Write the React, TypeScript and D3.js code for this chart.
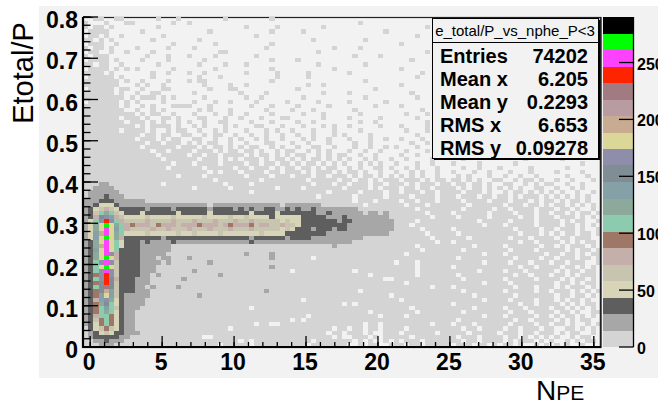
import React, { useEffect, useRef } from "react";
import * as d3 from "d3";

// histogram binning
const X_MIN = -0.5;
const X_MAX = 35.5;
const NX = 100;
const Y_MIN = 0;
const Y_MAX = 0.8;
const NY = 80;
const Z_MAX = 290;

const xTicks = [0, 5, 10, 15, 20, 25, 30, 35];
const yTicks = [0, 0.1, 0.2, 0.3, 0.4, 0.5, 0.6, 0.7, 0.8];
const zTicks = [0, 50, 100, 150, 200, 250];

const statTitle = "e_total/P_vs_nphe_P<3";
const statLabels = ["Entries", "Mean x", "Mean y", "RMS x", "RMS y"];
const statValues = ["74202", "6.205", "0.2293", "6.653", "0.09278"];

// 20 contour colours, lowest first
const paletteColors = [
  "#d4d4d4", "#a7a7a7", "#5e5e5e", "#d8d4b7", "#c7c4b0",
  "#c4afab", "#9f7766", "#8ccbae", "#8da99b", "#85a0a7",
  "#808d94", "#8e8eab", "#dbd799", "#c8ab91", "#b99ca1",
  "#a27b82", "#ff2400", "#ff42ff", "#00ff00", "#000000",
];

// contour level of every bin ('.' = empty, 1-9, a=10 ... k=20),
// one string per y bin, top row (0.79-0.80) first, 100 x bins each
const cellLevels = [
  "..11..11.. ....1...1. .......1.. ......1... .......... .......... ..........",
  "1...1...11 .......1.. 1......... .......... .......... ...1...... ..........",
  "1.11.1.... ....1..... .......... .1.....1.. ......1... .......... ......1...",
  ".1111..... .1........ ....1..... ......1... ..1....... ........1. ..........",
  ".11.1..1.. .....1.... .......... ...1...... .......... .......... ....1.....",
  "11.1.1.... ...1...... ..1....... .......... ....1..... ....1..... ..........",
  ".111..1... .......1.. .....1.... ......1... .......... .......... .1........",
  "1.11.1.... 1.....1... .1........ .....1.... ........1. ...1...... ..........",
  ".11..1..1. ...1...... ......11.. .......... .....1.... .......... ......1...",
  "1.111..... ..1...1... 1....1.... ...1...... .......... ..1....1.. ..........",
  ".1111.1... .1....1... ...1...... ......1... .1........ .......... ...1......",
  "11.11..1.. ....1..... ..1....1.. .1........ .....1.... ....1..... ..........",
  ".1111.1.1. 1......1.. .....1.... ......1... ........1. .......... .1........",
  "1111.1.... ...1..1... 1..1...... .1.....1.. ...1...... .1........ .....1....",
  ".11111.1.. ...1...... ..1...1... .......1.. ...1...... .......... ....1.....",
  "1111111.1. .1....1... 1.11...... ......1... .......... ....1..... ..........",
  "1111111... 1.1..1.... ...1....1. .1........ ...1..1... .......... .1........",
  ".11111.11. .1...11... ....1...11 .......... .1........ ......1... ..........",
  "111111.1.. 1..11..... .1........ 1....1.... ......1... .1........ ...1......",
  "11111111.1 .111.1.1.. ...1...... .1..1..... ..1....... ....1..... ....1.....",
  ".111111.1. 1....1.... .1...1..1. ...1.....1 .....1.... .1......1. ..........",
  "1111111.1. .1.1...111 1...1..... ..1...1... .1.....1.. ......1... .1........",
  "11111111.. 1..1.1.... ..1.1...1. .....1.... 1...1..... ..1....... .....1....",
  "1111111111 .1.11..1.. .1...1..1. .1....1... ..1...1... ...1...... ..1...1...",
  "1111111.11 1.1..11.1. ..11...1.. 1...1...11 ......1... .1.....1.. ....1.....",
  "11111111.1 11.1.1..1. 1..1..11.. ..1...1... .1..1..... ...1..1... ......1...",
  "1111111111 .1.1111.1. .1.1...1.1 ...11...1. ..1...1.1. .1.....1.. .1....1...",
  "1111111.11 11.1..1.11 ..1..1.1.. .1...1.1.. 1...1...1. ...1...... ..1...1...",
  "1111111111 1.11.11..1 1..1.11..1 ..1..1..1. .1..1...1. 1....1.... ....1.....",
  "1111111111 .111.1.11. .11..1..1. 1..1.1..1. ..1.1..1.. .1...1..1. .1...1....",
  "1111111111 11.11.111. 1.1.11..1. .1...11... 1..1...1.. ..1..1.... ...1..1...",
  "1111111111 1.111111.1 11.1.11.1. 1.11..1.1. .1..11..1. ..1..1..1. 1...1.....",
  "1111111111 111.11.111 1.111.1.11 .11.1..1.1 1..1.1.1.. .1..1..1.. ..1...1...",
  "1111111111 1111.11111 .11.11.111 1.1.11.1.1 .11..1.1.1 1..1..1... .1..1.....",
  "1111111111 11111.1111 11.111.1.1 .111.1.11. 1.1.11.1.1 .1..1.1..1 ..1....1.. ...1...... .....1.... ..1.......",
  "1111111111 1111111.11 1.1111.111 1.11.11.11 .1.11.1.1. 1..1.1.1.. 1...1..1.. .1....1... ...1...... ......1...",
  "1111111111 111111.111 111.11111. 11.111.1.1 1.11.1.11. .1.1..11.1 ..1.1...1. ...1..1... 1.....1... ...1......",
  "1111111111 1111111111 1111.1.111 .1111.11.1 11.1.111.1 .11.1..1.. 1..1.1..1. .1...1..1. ..1...1... .1....1...",
  "1111111111 11111111.1 111.111111 1.1111.111 .111.11.11 1.1.11.1.1 .1.1.1..1. ..1.1...1. .1..1..1.. ...1...1..",
  "1111111111 1111111111 11111.1111 1111.11111 111.11111. 11.11.1.11 1.111.1.11 .11.1.1..1 1..1.11.1. .1..1...1.",
  "1112211111 11111.1111 1111111.11 11.1111111 1111.111.1 1.111.11.1 11.1.111.1 1.11.11.1. .11..1.1.1 1..1..1...",
  "1122221111 1111111111 1.111111.1 1111111.11 11.1111111 .1111.1.11 1.11.11.11 11.1.11.1. 1.1.1..11. .1..1.1...",
  "1222222111 1111111111 1111111111 11.1111111 1111111.11 111.1111.1 1.111.11.1 111.111.1. .1.11.1.1. 1.1..1..1.",
  "1222322211 1111111111 1111111111 1111111111 11111.1111 11.11111.1 111.1111.1 11.111.11. 11.1.111.1 .1.1.1.1..",
  "2223332222 2211111111 1111111111 1111111111 1111111111 11.111.111 1.11.111.1 111.1111.1 11.111.1.1 1.1.11.1..",
  "2234443222 2222222222 2222122222 2222222212 2222221111 1111.11111 11.111.111 1111.11111 1.111.11.1 .11.1.1.1.",
  "2345654333 3323333233 3333233332 3232233223 2322322222 2221111111 1111.11111 111.11111. 11.1111.11 1.11.1..1.",
  "2358985433 3433333343 3333433333 3343333433 3333322322 2222122121 111111.111 1.111111.1 111.111.11 .11.1.11.1",
  "236bca6544 4454444544 4445444454 4544443444 4433333222 3222222221 1111111.11 11.11111.1 1111.11.11 1.111.1.1.",
  "248chc8655 5565555655 5655565556 5565555545 4433333332 3322222222 1111.11111 111111.111 11.1111.11 11.1.11..1",
  "249djd9867 6665766656 6676665676 6675665565 5433333333 3222222222 111.111111 1111111.11 1.11111.11 11.11.1.1.",
  "249dida865 5556556555 6555655565 5565555545 4333233323 3222222222 11111.1111 1.11111111 111.1111.1 1.111.1..1",
  "24aeid9844 4454444454 4544445444 4444544443 3333333222 2222222221 111111.111 11.1111111 1111.111.1 .1.11.11.1",
  "24adjd9633 3333323333 3333333333 3323333332 3333222222 2222111111 1111111.11 1111.11111 11.111.111 1.11.111..",
  "239did8433 3232222322 2222222222 2232222222 2222222222 2211111111 11111111.1 1.11111111 1111.11.11 11.1.1.11.",
  "239eid8433 3222222111 1111111111 1111111111 1111111121 1111111111 1111.11111 11111.1111 1.111111.1 1.1.111.1.",
  "23adid8333 3222222111 1111111111 1111111111 1111111111 1111111111 11111.1111 111.111111 11.1111.11 111.1.11.1",
  "239dic6333 3222221111 1111111111 1211112111 1111111111 1111111111 11.1111111 1111111.11 1.1111111. 11.11.1.11",
  "239djd6333 3222122111 2111111111 1111112111 1111.11111 1111111111 1111111111 11.1111111 111.1111.1 1.111.11.1",
  "238cic5333 3222212111 1111211111 1111111111 1111111111 1111111111 .111.11111 1111111.11 11.111.111 .11.111..1",
  "238djd5333 3222111111 1111111111 1111112111 1111111111 1111111111 1111.11111 1.11111111 1111.11.11 11.11.1.1.",
  "238cic5333 3222111111 1211111111 1111111111 .111111111 11.1111111 1111.11111 111111.111 1.111.1111 1.1.11.11.",
  "237chc5333 3221211111 1111112111 1111111111 1111111111 11111.1111 1111.11111 11.1111111 111.11.111 .11.1.111.",
  "238chb6333 2221111112 1111111111 1111111111 1111111111 11111111.. 1111111111 111.111111 1.11111.11 11.1.11.1.",
  "237bhb5333 2221111111 1111111111 1111111111 1111111111 1111111111 11.1111111 1111111.11 11.1111111 1.11.1.11.",
  "238bgb5333 2212111121 1111111111 1111111111 1111111111 1111111111 1111111.11 1.11111111 111.111.11 1.1.111.1.",
  "237bea5333 2221111111 1111111111 1111121111 1111111111 111.111111 1111111111 111.111111 1.11111.11 .111.1.1.1",
  "237ada5322 2221111111 1121111111 1111111111 1111111111 111111111. 1111111111 11111.1111 111.111111 1.11.11.1.",
  "236ac94322 2211111111 1111111111 1111111111 11.1111111 1111111111 1.11111111 1111111.11 11.1111.11 1.1.11.1..",
  "2379b84322 2211111111 1111111111 1111111111 1111111111 .1.1111111 1111111111 1.11111111 1111.11.11 11.1.1.11.",
  "2378a85322 2111111111 1111111111 11.1111111 1111111111 1111111111 111.111111 11111.1111 1.111.1111 .11.1.1.1.",
  "2378984322 1111111111 1111111111 1111111111 1111111111 11111.1111 1111.11111 111.111111 11.111.111 1.11.1..11",
  "2368874322 1111111111 1111111111 1111111111 111.111111 1111111.11 11.1111111 1111111.11 1.11111.11 .1.11.1.1.",
  "2357874322 1111111111 1111111111 1111111111 .1.1111111 1111111111 1111111111 11.1111111 111.11.111 1.1.1.11..",
  "2347874322 1111111111 1111111111 111.11..11 1111111111 1111.11.11 1111111.11 1.111.1111 11.1111.11 .11.1..1.1",
  "1345754322 1111111111 11111111.1 1111111111 11111111.1 1.11.11.11 11.1111111 111.11.111 1.11.111.1 1..11.1.1.",
  "1234543322 2111111111 1111111111 1111111111 1111111.11 .111.1..11 1.111111.1 1111.11111 .111.11.11 1.1.11..1.",
  "1233333221 1111111111 111..11111 1111111111 11111111.1 ..111.1.11 111.111111 11.111.111 1.11.1.1.1 .1..1.11..",
  "1122322211 1111111111 1111111111 .1.1111111 1111.11111 11.1.1..1. 1.111.1111 111.11.111 1.1.111.1. 1..1.1.11.",
  "1112221111 1111111111 111111.111 11.1111111 111.111111 1..1.11..1 11.11.1111 1.111.11.1 .11.1..1.1 .1.1..1...",
];

const BG = "#f2f2f2";
const FONT = "'Liberation Sans', Arial, Helvetica, sans-serif";

type Cell = { ix: number; iy: number; count: number };

const cells: Cell[] = [];
cellLevels.forEach((row, i) => {
  const s = row.replace(/ /g, "").padEnd(NX, ".").slice(0, NX);
  const iy = NY - 1 - i;
  for (let ix = 0; ix < NX; ix++) {
    const ch = s[ix];
    if (ch === ".") continue;
    const level = parseInt(ch, 36);
    cells.push({ ix, iy, count: ((level - 0.5) * Z_MAX) / paletteColors.length });
  }
});

export default function App() {
  const svgRef = useRef<SVGSVGElement>(null);

  useEffect(() => {
    document.body.style.margin = "0";
    const svg = d3.select(svgRef.current);
    svg.selectAll("*").remove();

    const W = 658,
      H = 406;
    const left = 83,
      right = 601,
      top = 17,
      bottom = 347;

    const x = d3.scaleLinear().domain([X_MIN, X_MAX]).range([left, right]);
    const y = d3.scaleLinear().domain([Y_MIN, Y_MAX]).range([bottom, top]);
    const z = d3.scaleLinear().domain([0, Z_MAX]).range([bottom, top]);
    const color = d3
      .scaleQuantize<string>()
      .domain([0, Z_MAX])
      .range(paletteColors);
    const dx = (X_MAX - X_MIN) / NX;
    const dy = (Y_MAX - Y_MIN) / NY;

    svg.append("rect").attr("width", W).attr("height", H).attr("fill", "#fff");
    svg
      .append("rect")
      .attr("x", 39)
      .attr("y", 6)
      .attr("width", W - 39)
      .attr("height", 372)
      .attr("fill", BG);

    // frame
    svg
      .append("rect")
      .attr("x", left)
      .attr("y", top + 0.5)
      .attr("width", right - left)
      .attr("height", bottom - top)
      .attr("fill", BG)
      .attr("stroke", "#222")
      .attr("stroke-width", 1.2);

    // bins
    const bx = (i: number) => Math.round(x(X_MIN + i * dx));
    const by = (j: number) => Math.round(y(Y_MIN + j * dy));
    svg
      .append("g")
      .attr("shape-rendering", "crispEdges")
      .selectAll("rect")
      .data(cells)
      .join("rect")
      .attr("x", (d) => bx(d.ix))
      .attr("y", (d) => by(d.iy + 1))
      .attr("width", (d) => bx(d.ix + 1) - bx(d.ix))
      .attr("height", (d) => by(d.iy) - by(d.iy + 1))
      .attr("fill", (d) => color(d.count));

    // right frame edge
    svg
      .append("line")
      .attr("x1", right - 0.5)
      .attr("x2", right - 0.5)
      .attr("y1", top)
      .attr("y2", bottom)
      .attr("stroke", "#222")
      .attr("stroke-width", 1.5);

    const axes = svg.append("g").attr("stroke", "#000");

    // y axis
    const yMinor = d3.range(0, 40 + 1).map((k) => k * 0.02);
    axes
      .selectAll(".ymin")
      .data(yMinor)
      .join("line")
      .attr("x1", left)
      .attr("x2", left + 7.5)
      .attr("y1", (d) => y(d))
      .attr("y2", (d) => y(d))
      .attr("stroke-width", 1.3);
    axes
      .selectAll(".ymaj")
      .data(yTicks)
      .join("line")
      .attr("x1", left)
      .attr("x2", left + 15)
      .attr("y1", (d) => y(d))
      .attr("y2", (d) => y(d))
      .attr("stroke-width", 1.3);

    // x axis
    const xMinor = d3.range(0, 36);
    axes
      .selectAll(".xmin")
      .data(xMinor)
      .join("line")
      .attr("x1", (d) => x(d))
      .attr("x2", (d) => x(d))
      .attr("y1", bottom)
      .attr("y2", bottom - 5)
      .attr("stroke-width", 1.3);
    axes
      .selectAll(".xmaj")
      .data(xTicks)
      .join("line")
      .attr("x1", (d) => x(d))
      .attr("x2", (d) => x(d))
      .attr("y1", bottom)
      .attr("y2", bottom - 11)
      .attr("stroke-width", 1.3);

    axes
      .append("line")
      .attr("x1", left)
      .attr("x2", left)
      .attr("y1", top)
      .attr("y2", bottom + 1)
      .attr("stroke-width", 2.2);
    axes
      .append("line")
      .attr("x1", left - 1)
      .attr("x2", right)
      .attr("y1", bottom)
      .attr("y2", bottom)
      .attr("stroke-width", 2.2);

    svg
      .append("g")
      .attr("font-family", FONT)
      .attr("font-weight", "bold")
      .attr("font-size", 23)
      .attr("text-anchor", "end")
      .selectAll("text")
      .data(yTicks)
      .join("text")
      .attr("x", left - 5)
      .attr("y", (d) => y(d) + 11)
      .text((d) => (d === 0 ? "0" : d3.format(".1f")(d)));

    svg
      .append("g")
      .attr("font-family", FONT)
      .attr("font-weight", "bold")
      .attr("font-size", 23)
      .attr("text-anchor", "middle")
      .selectAll("text")
      .data(xTicks)
      .join("text")
      .attr("x", (d) => x(d) - 1)
      .attr("y", 370)
      .text((d) => d);

    // axis titles
    svg
      .append("text")
      .attr("transform", "translate(33,73) rotate(-90)")
      .attr("font-family", FONT)
      .attr("font-size", 29)
      .attr("text-anchor", "middle")
      .text("Etotal/P");
    const xt = svg
      .append("text")
      .attr("x", 536)
      .attr("y", 400)
      .attr("font-family", FONT)
      .attr("font-size", 28);
    xt.append("tspan").text("N");
    xt.append("tspan").attr("font-size", 21).text("PE");

    // palette
    const pal = svg.append("g").attr("shape-rendering", "crispEdges");
    pal
      .selectAll("rect")
      .data(paletteColors)
      .join("rect")
      .attr("x", 603)
      .attr("y", (_, i) => Math.round(z(((i + 1) * Z_MAX) / paletteColors.length)))
      .attr("width", 30)
      .attr("height", (_, i) =>
        Math.round(z((i * Z_MAX) / paletteColors.length)) -
        Math.round(z(((i + 1) * Z_MAX) / paletteColors.length))
      )
      .attr("fill", (d) => d);
    svg
      .append("line")
      .attr("x1", 633.5)
      .attr("x2", 633.5)
      .attr("y1", top)
      .attr("y2", bottom)
      .attr("stroke", "#000")
      .attr("stroke-width", 1.3);
    svg
      .append("g")
      .selectAll("line")
      .data(zTicks)
      .join("line")
      .attr("x1", 619)
      .attr("x2", 633.5)
      .attr("y1", (d) => z(d))
      .attr("y2", (d) => z(d))
      .attr("stroke", "#000")
      .attr("stroke-width", 1.3);
    svg
      .append("g")
      .attr("font-family", FONT)
      .attr("font-weight", "bold")
      .attr("font-size", 16)
      .selectAll("text")
      .data(zTicks)
      .join("text")
      .attr("x", 637)
      .attr("y", (d) => z(d) + 7)
      .text((d) => d);

    // stats box
    const sb = { x: 432, y: 18, w: 166, h: 140 };
    svg
      .append("rect")
      .attr("x", sb.x + 0.5)
      .attr("y", sb.y + 0.5)
      .attr("width", sb.w)
      .attr("height", sb.h)
      .attr("fill", BG)
      .attr("stroke", "#000")
      .attr("stroke-width", 1);
    svg
      .append("path")
      .attr(
        "d",
        `M${sb.x + sb.w + 1.5},${sb.y + 2} V${sb.y + sb.h + 1.5} H${sb.x + 2}`
      )
      .attr("fill", "none")
      .attr("stroke", "#000")
      .attr("stroke-width", 1.2);
    svg
      .append("line")
      .attr("x1", sb.x)
      .attr("x2", sb.x + sb.w)
      .attr("y1", 42.5)
      .attr("y2", 42.5)
      .attr("stroke", "#000");
    svg
      .append("text")
      .attr("x", sb.x + sb.w / 2)
      .attr("y", 36)
      .attr("font-family", FONT)
      .attr("font-size", 15)
      .attr("text-anchor", "middle")
      .text(statTitle);
    const st = svg
      .append("g")
      .attr("font-family", FONT)
      .attr("font-weight", "bold")
      .attr("font-size", 20);
    st.selectAll(".lab")
      .data(statLabels)
      .join("text")
      .attr("x", 440)
      .attr("y", (_, i) => 63 + i * 22.9)
      .text((d) => d);
    st.selectAll(".val")
      .data(statValues)
      .join("text")
      .attr("x", 588)
      .attr("y", (_, i) => 63 + i * 22.9)
      .attr("text-anchor", "end")
      .text((d) => d);
  }, []);

  return (
    <div style={{ width: 658, height: 406 }}>
      <svg ref={svgRef} width={658} height={406} style={{ display: "block" }}></svg>
    </div>
  );
}
